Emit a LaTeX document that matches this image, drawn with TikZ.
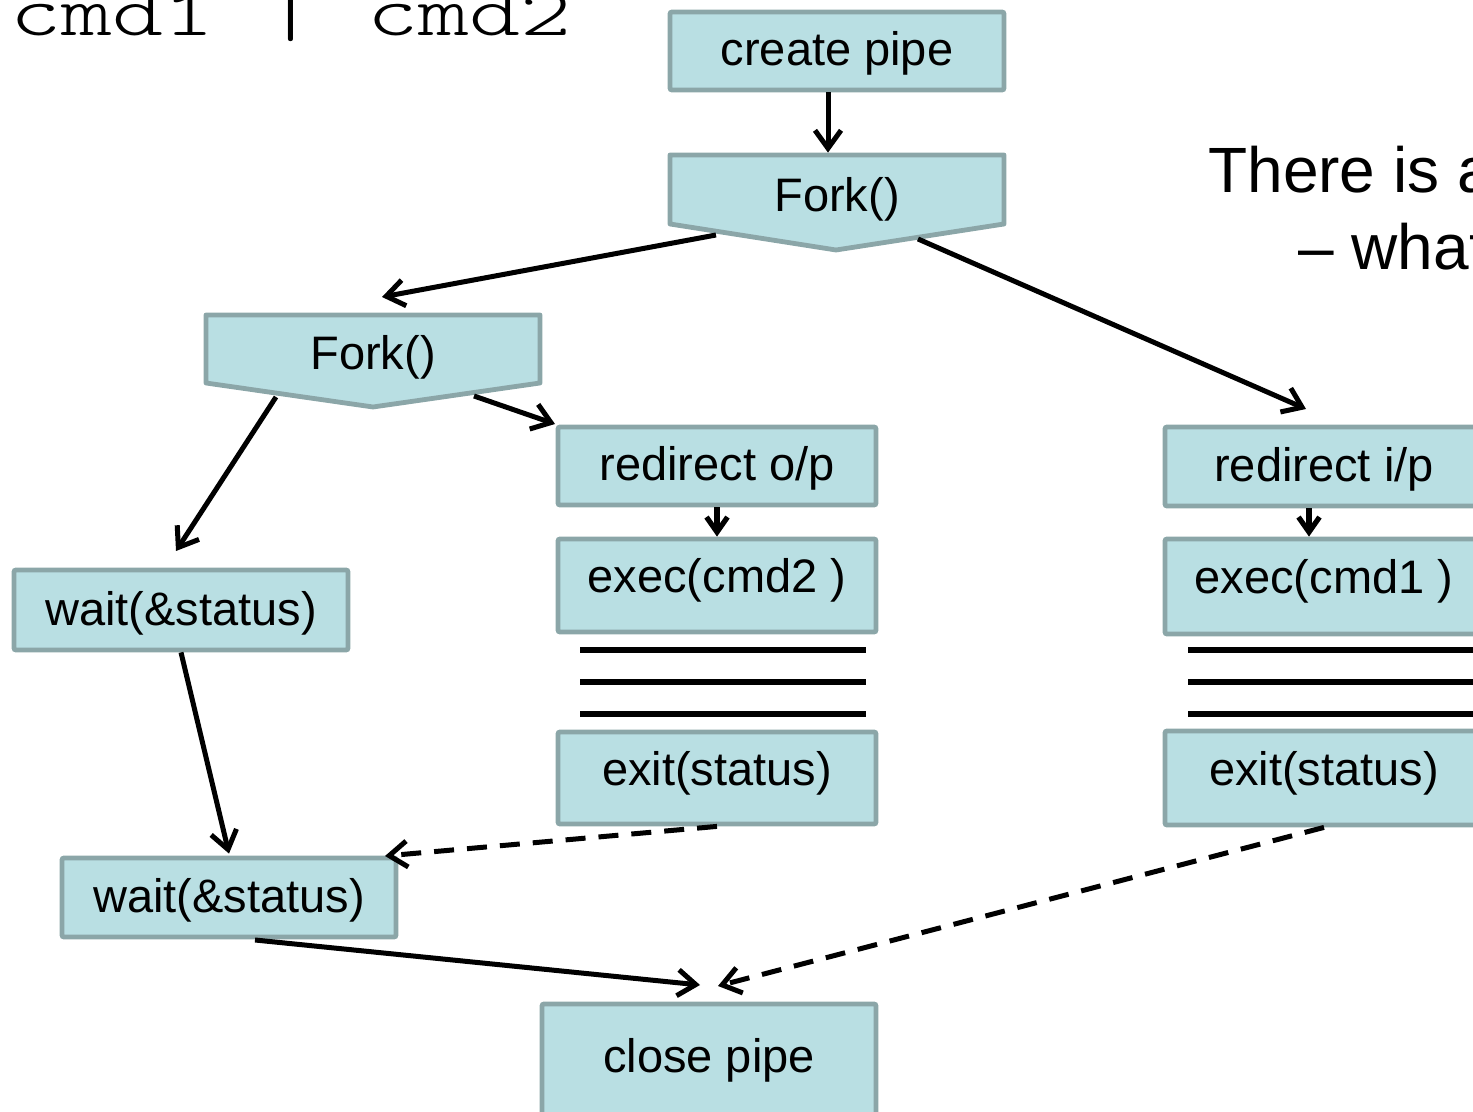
\documentclass[tikz,border=0pt]{standalone}
\usepackage{fontspec}
\setmainfont{Liberation Sans}
\newfontfamily\cmdfont{Latin Modern Mono Light}
\usetikzlibrary{arrows.meta,calc}
\definecolor{boxfill}{RGB}{185,223,227}
\definecolor{boxline}{RGB}{139,166,168}
\begin{document}
\begin{tikzpicture}[x=0.5pt,y=-0.5pt,
  stepbox/.style={draw=boxline,fill=boxfill,line width=2.4pt,rounded corners=1pt,
    inner sep=0pt,minimum width=167pt,minimum height=39pt,
    font=\fontsize{23.5}{28}\selectfont,text height=19.7pt,text depth=4.7pt},
  narrowbox/.style={stepbox,minimum width=159pt},
  forkbody/.style={inner sep=0pt,minimum width=167pt,minimum height=34.5pt,
    font=\fontsize{23.5}{28}\selectfont,text depth=4.7pt},
  forkshape/.style={draw=boxline,fill=boxfill,line width=2.4pt,line join=round},
  flow/.style={line width=2.5pt,-{Straight Barb[length=9pt,width=13pt]}},
  shortflow/.style={line width=2.6pt,-{Straight Barb[length=7.5pt,width=10.5pt]}},
  joinflow/.style={flow,dash pattern=on 10pt off 6.5pt},
  rule/.style={line width=2.6pt}]
\useasboundingbox (0,0) rectangle (1473,1112);
\clip (0,0) rectangle (1473,1112);

% command line heading and side note
\node[anchor=base west,inner sep=0pt] (cmdline) at (10,36)
  {\scalebox{1}[0.74]{\fontsize{48.6}{50}\selectfont\cmdfont cmd1 | cmd2}};
\node[anchor=base west,inner sep=0pt,font=\fontsize{32}{38}\selectfont] (note1) at (1208,193) {There is a};
\node[anchor=base west,inner sep=0pt,font=\fontsize{32}{38}\selectfont] (note2) at (1298,270) {– what};

% parent: create pipe, then first fork
\node[stepbox] (create) at (837,51) {create pipe};
\filldraw[forkshape] (670,155) -- (1004,155) -- (1004,224) -- (836,250) -- (670,224) -- cycle;
\node[forkbody,text height=27.2pt] (fork1) at (837,189.5) {Fork()};

% second fork
\filldraw[forkshape] (206,315) -- (540,315) -- (540,383) -- (373,407) -- (206,383) -- cycle;
\node[forkbody,minimum height=34pt,text height=25.7pt] (fork2) at (373,349) {Fork()};

% writer child (cmd2)
\node[narrowbox] (redirL) at (717,466) {redirect o/p};
\node[narrowbox,minimum height=46.5pt,text depth=13.2pt] (execL) at (717,585.5) {exec(cmd2 )};
\node[narrowbox,minimum height=46pt,text depth=12pt] (exitL) at (717,778) {exit(status)};
\draw[rule] (580,650) -- (866,650);
\draw[rule] (580,682) -- (866,682);
\draw[rule] (580,714) -- (866,714);

% reader child (cmd1)
\node[narrowbox,minimum height=39.5pt] (redirR) at (1324,466.5) {redirect i/p};
\node[narrowbox,minimum height=47.5pt,text depth=13.2pt] (execR) at (1324,586.5) {exec(cmd1 )};
\node[narrowbox,minimum height=47pt,text depth=12pt] (exitR) at (1324,778) {exit(status)};
\draw[rule] (1188,650) -- (1490,650);
\draw[rule] (1188,682) -- (1490,682);
\draw[rule] (1188,714) -- (1490,714);

% parent waits, then closes the pipe
\node[stepbox,minimum height=40pt] (wait1) at (181,610) {wait(\&status)};
\node[stepbox,minimum height=39.5pt] (wait2) at (229,897.5) {wait(\&status)};
\node[stepbox,minimum height=59.5pt,text depth=11.2pt] (close) at (709,1063.5) {close pipe};

% free ends of the connectors
\coordinate (f1left)  at (716,235);
\coordinate (f1right) at (918,239);
\coordinate (f2in)    at (382,297);
\coordinate (rRin)    at (1306,409);
\coordinate (f2left)  at (276,397);
\coordinate (f2right) at (474,396);
\coordinate (w1in)    at (176,551);
\coordinate (rLin)    at (555,424);
\coordinate (w2out)   at (255,940);
\coordinate (cin1)    at (700,985);
\coordinate (cin2)    at (718,986);
\coordinate (w2in)    at (385,856);

% connectors
\draw[flow] ([xshift=-4.5pt]create.south) -- ([xshift=-4.5pt,yshift=1pt]fork1.north);
\draw[flow] (f1left) -- (f2in);
\draw[flow] (f1right) -- (rRin);
\draw[flow] (f2left) -- (w1in);
\draw[flow] (f2right) -- (rLin);
\draw[shortflow] (redirL.south) -- (execL.north);
\draw[shortflow] ([xshift=-7.5pt]redirR.south) -- ([xshift=-7.5pt]execR.north);
\draw[flow] (wait1.south) -- ([yshift=1pt]wait2.north);
\draw[flow] (w2out) -- (cin1);
\draw[joinflow] (exitL.south) -- (w2in);
\draw[joinflow] (exitR.south) -- (cin2);
\end{tikzpicture}
\end{document}
